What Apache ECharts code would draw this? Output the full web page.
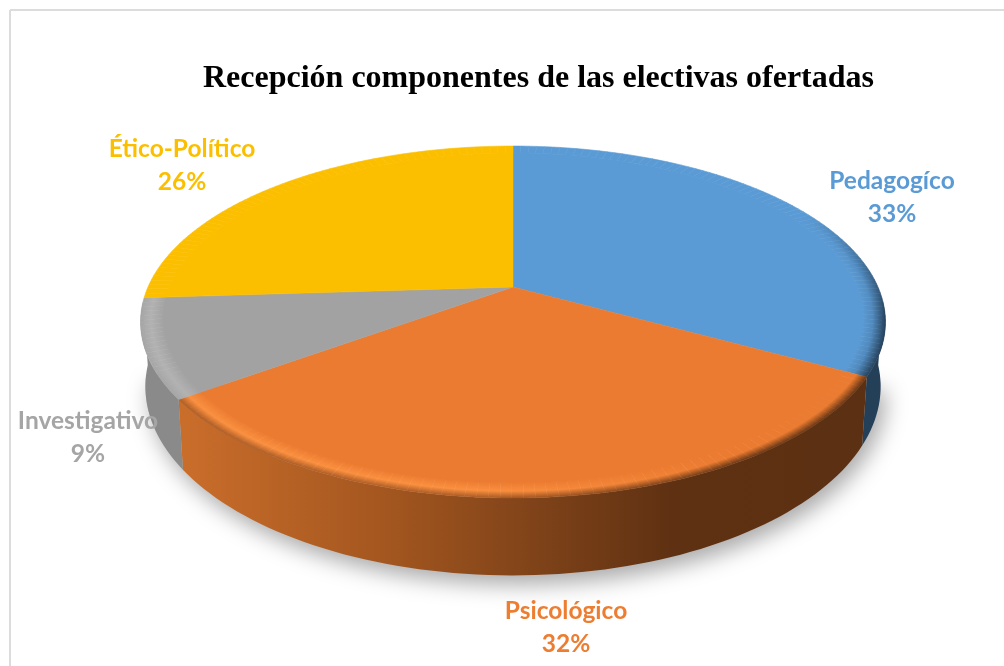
<!DOCTYPE html>
<html><head><meta charset="utf-8">
<style>html,body{margin:0;padding:0;background:#fff}#c{width:1004px;height:666px}</style>
<script src="https://cdn.jsdelivr.net/npm/echarts@6/dist/echarts.min.js"></script>
</head><body><div id="c"></div>
<script>
const titleText = 'Recepción componentes de las electivas ofertadas';
const categories = ['Pedagogíco', 'Psicológico', 'Investigativo', 'Ético-Político'];
const values = [33, 32, 9, 26];
const colors = ['#5b9bd5', '#eb7b30', '#a2a2a2', '#fcbf00'];
const labelColors = ['#5b9bd5', '#ed7d31', '#a5a5a5', '#fcbf00'];
const rimPeak = ['#5b9bd5', '#fb9040', '#b2b2b2', '#fcbf00'];
const rimEdge = ['#26425c', '#ad5c25', '#a6a6a6', '#fcbf00'];
const labelPos = [[892, 198], [566, 628], [88, 438], [182, 166]];

// Perspective projection of the pie disc
const CX = 513, CY = 287, R = 365, H = 169, K = 0.199, D = 62, TAPER = 0.987;
function proj(deg, r, low) {
  const a = deg * Math.PI / 180, u = r * Math.sin(a), v = r * Math.cos(a);
  const s = 1 / (1 + K * v);
  return low ? [CX + R * u * s * TAPER, CY - H * v * s + D * s]
             : [CX + R * u * s, CY - H * v * s];
}
function arc(a0, a1, r, low) {
  const n = Math.max(2, Math.ceil(Math.abs(a1 - a0) / 1.5)), p = [];
  for (let i = 0; i <= n; i++) p.push(proj(a0 + (a1 - a0) * i / n, r, low));
  return p;
}
function hex(c) { return [1, 3, 5].map(i => parseInt(c.substr(i, 2), 16)); }
function mix(c1, c2, t) {
  const a = hex(c1), b = hex(c2);
  return '#' + a.map((x, i) => Math.round(x + (b[i] - x) * t).toString(16).padStart(2, '0')).join('');
}
function clamp(x) { return Math.max(0, Math.min(1, x)); }
function wallFill(i) {
  if (i === 1) return new echarts.graphic.LinearGradient(186, 0, 860, 0, [
    { offset: 0, color: '#c96d2b' }, { offset: 0.3, color: '#a3561f' },
    { offset: 0.55, color: '#7a4018' }, { offset: 0.72, color: '#5f3112' }, { offset: 1, color: '#5c3012' }
  ], true);
  return i === 0 ? '#243f58' : i === 2 ? '#8a8a8a' : colors[i];
}
const total = values.reduce((a, b) => a + b, 0);
const starts = []; values.reduce((acc, v, i) => (starts[i] = acc, acc + v), 0);

function rimStops(i, sm) {
  const front = clamp((125 - Math.abs(sm - 180)) / 30);
  if (i === 0) {
    const w = clamp((sm - 62) / 38);
    return [[0, colors[0]], [0.45, mix(colors[0], rimEdge[0], 0.2 * w)], [1, mix(colors[0], rimEdge[0], w)]];
  }
  const lit = i === 1 ? clamp((sm - 150) / 35) : 1;
  const peak = mix(colors[i], rimPeak[i], front * lit);
  const edge = mix(colors[i], i === 1 ? mix('#6a3614', rimEdge[1], lit) : rimEdge[i], front);
  return [[0, colors[i]], [0.55, peak], [1, edge]];
}
function renderSlice(params, api) {
  const i = api.value(0), a0 = api.value(1) / total * 360, a1 = a0 + api.value(2) / total * 360;
  const kids = [];
  const w0 = Math.max(a0, 95), w1 = Math.min(a1, 265);
  if (w1 > w0) {
    kids.push({ type: 'polygon', shape: { points: arc(w0, w1, 1, false).concat(arc(w1, w0, 1, true)) },
      style: { fill: wallFill(i), stroke: null } });
  }
  const RIN = 0.94;
  kids.push({ type: 'polygon', shape: { points: [[CX, CY]].concat(arc(a0, a1, RIN + 0.002, false)) },
    style: { fill: colors[i], stroke: colors[i], lineWidth: 0.5 } });
  const n = Math.ceil((a1 - a0) / 1.5);
  for (let k = 0; k < n; k++) {
    const s0 = a0 + (a1 - a0) * k / n, s1 = a0 + (a1 - a0) * (k + 1) / n, sm = (s0 + s1) / 2;
    const q0 = proj(s0, 1, false), q1 = proj(s1, 1, false), pIn = proj(sm, RIN, false), pOut = proj(sm, 1, false);
    // gradient runs square to the outer edge, so neighbouring pieces line up
    let nx = -(q1[1] - q0[1]), ny = q1[0] - q0[0];
    const len = Math.hypot(nx, ny); nx /= len; ny /= len;
    const d = (pIn[0] - pOut[0]) * nx + (pIn[1] - pOut[1]) * ny;
    const g = new echarts.graphic.LinearGradient(pOut[0] + nx * d, pOut[1] + ny * d, pOut[0], pOut[1],
      rimStops(i, sm).map(s => ({ offset: s[0], color: s[1] })), true);
    kids.push({ type: 'polygon', shape: { points: [proj(s0, RIN, false), proj(s1, RIN, false), q1, q0] },
      style: { fill: g, stroke: g, lineWidth: 0.6 } });
  }
  return { type: 'group', children: kids };
}
function renderShadow() {
  return { type: 'polygon', shape: { points: arc(100, 262, 1, true).concat(arc(262, 100, 0.8, true)) },
    style: { fill: '#bdbdbd', shadowBlur: 22, shadowColor: 'rgba(0,0,0,0.34)', shadowOffsetX: 5, shadowOffsetY: 9 } };
}
function renderLabel(params, api) {
  const i = api.value(0);
  return { type: 'text', x: labelPos[i][0], y: labelPos[i][1], z2: 100,
    style: { text: categories[i] + '\n' + Math.round(values[i] / total * 100) + '%',
      fill: labelColors[i], font: 'bold 24.5px Lato', lineHeight: 33, align: 'center', verticalAlign: 'middle' } };
}
const rows = values.map((v, i) => [i, starts[i], v]);
const chart = echarts.init(document.getElementById('c'), null, { renderer: 'canvas' });
chart.setOption({
  backgroundColor: '#ffffff',
  animation: false,
  title: { text: titleText, left: 533.5, top: 58, textAlign: 'center',
    textStyle: { fontFamily: 'Liberation Serif', fontWeight: 'bold', fontSize: 32, color: '#000' } },
  graphic: [
    { type: 'line', shape: { x1: 10, y1: 10, x2: 10, y2: 666 }, style: { stroke: '#dcdcdc', lineWidth: 2 } },
    { type: 'line', shape: { x1: 10, y1: 10, x2: 1004, y2: 10 }, style: { stroke: '#dcdcdc', lineWidth: 2 } }
  ],
  series: [
    { type: 'custom', coordinateSystem: 'none', silent: true, renderItem: renderShadow, data: [[0]], z: 1 },
    { type: 'custom', coordinateSystem: 'none', silent: true, renderItem: renderSlice, data: rows, z: 2, clip: false },
    { type: 'custom', coordinateSystem: 'none', silent: true, renderItem: renderLabel, data: rows, z: 3 }
  ]
});
</script></body></html>
